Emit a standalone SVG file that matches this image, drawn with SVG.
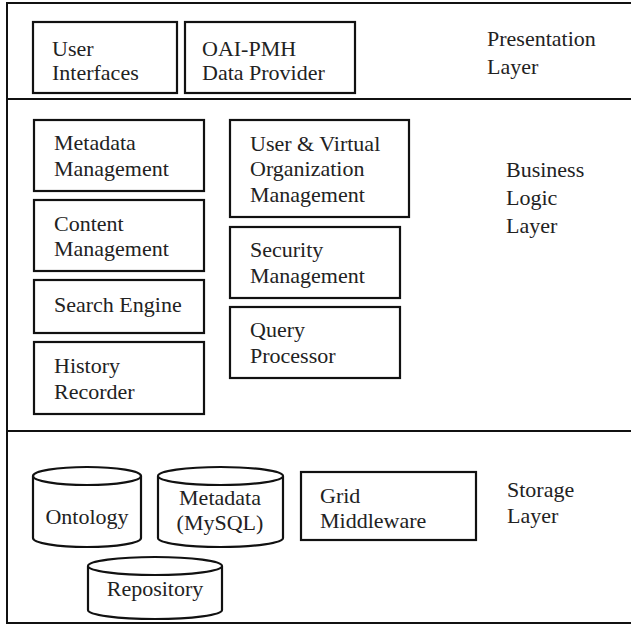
<svg xmlns="http://www.w3.org/2000/svg" width="631" height="626" viewBox="0 0 631 626">
  <style>
    .frame { fill: none; stroke: #111; stroke-width: 2; }
    .box { fill: #fff; stroke: #111; stroke-width: 2.2; }
    .cyl { fill: #fff; stroke: #111; stroke-width: 2.2; }
    .lbl { font-family: "Liberation Serif", "Times New Roman", Times, serif; font-size: 22px; fill: #222; }
    .mid { text-anchor: middle; }
  </style>
  <rect width="631" height="626" fill="#fff"/>

  <!-- outer frame and layer dividers -->
  <g id="layers">
    <rect class="frame" x="7" y="3" width="630" height="620"/>
    <line class="frame" x1="7" y1="99" x2="631" y2="99"/>
    <line class="frame" x1="7" y1="431" x2="631" y2="431"/>
  </g>

  <!-- Presentation layer -->
  <g id="presentation-label">
    <text class="lbl" x="487" y="46">Presentation</text>
    <text class="lbl" x="487" y="74">Layer</text>
  </g>
  <g id="user-interfaces">
    <rect class="box" x="33" y="22" width="144" height="71"/>
    <text class="lbl" x="52" y="56">User</text>
    <text class="lbl" x="52" y="80">Interfaces</text>
  </g>
  <g id="oai-pmh">
    <rect class="box" x="185" y="22" width="170" height="71"/>
    <text class="lbl" x="202" y="56">OAI-PMH</text>
    <text class="lbl" x="202" y="80">Data Provider</text>
  </g>

  <!-- Business logic layer -->
  <g id="business-label">
    <text class="lbl" x="506" y="177">Business</text>
    <text class="lbl" x="506" y="205">Logic</text>
    <text class="lbl" x="506" y="233">Layer</text>
  </g>
  <g id="metadata-management">
    <rect class="box" x="34" y="120" width="170" height="71"/>
    <text class="lbl" x="54" y="150">Metadata</text>
    <text class="lbl" x="54" y="176">Management</text>
  </g>
  <g id="content-management">
    <rect class="box" x="34" y="200" width="170" height="71"/>
    <text class="lbl" x="54" y="231">Content</text>
    <text class="lbl" x="54" y="256">Management</text>
  </g>
  <g id="search-engine">
    <rect class="box" x="34" y="280" width="170" height="53"/>
    <text class="lbl" x="54" y="312">Search Engine</text>
  </g>
  <g id="history-recorder">
    <rect class="box" x="34" y="342" width="170" height="72"/>
    <text class="lbl" x="54" y="373">History</text>
    <text class="lbl" x="54" y="399">Recorder</text>
  </g>
  <g id="user-vo-management">
    <rect class="box" x="230" y="120" width="179" height="97"/>
    <text class="lbl" x="250" y="151">User &amp; Virtual</text>
    <text class="lbl" x="250" y="176">Organization</text>
    <text class="lbl" x="250" y="202">Management</text>
  </g>
  <g id="security-management">
    <rect class="box" x="230" y="227" width="170" height="71"/>
    <text class="lbl" x="250" y="257">Security</text>
    <text class="lbl" x="250" y="283">Management</text>
  </g>
  <g id="query-processor">
    <rect class="box" x="230" y="307" width="170" height="71"/>
    <text class="lbl" x="250" y="337">Query</text>
    <text class="lbl" x="250" y="363">Processor</text>
  </g>

  <!-- Storage layer -->
  <g id="storage-label">
    <text class="lbl" x="507" y="497">Storage</text>
    <text class="lbl" x="507" y="523">Layer</text>
  </g>
  <g id="ontology">
    <path class="cyl" d="M33,476 A54,9 0 0 1 141,476 L141,538 A54,9 0 0 1 33,538 Z"/>
    <path class="cyl" d="M33,476 A54,9 0 0 0 141,476" fill="none"/>
    <text class="lbl mid" x="87" y="524">Ontology</text>
  </g>
  <g id="metadata-mysql">
    <path class="cyl" d="M158,476 A62.5,9 0 0 1 283,476 L283,538 A62.5,9 0 0 1 158,538 Z"/>
    <path class="cyl" d="M158,476 A62.5,9 0 0 0 283,476" fill="none"/>
    <text class="lbl mid" x="220" y="505">Metadata</text>
    <text class="lbl mid" x="220" y="530">(MySQL)</text>
  </g>
  <g id="grid-middleware">
    <rect class="box" x="301" y="472" width="175" height="68"/>
    <text class="lbl" x="320" y="503">Grid</text>
    <text class="lbl" x="320" y="528">Middleware</text>
  </g>
  <g id="repository">
    <path class="cyl" d="M88,566 A67,9 0 0 1 222,566 L222,610 A67,9 0 0 1 88,610 Z"/>
    <path class="cyl" d="M88,566 A67,9 0 0 0 222,566" fill="none"/>
    <text class="lbl mid" x="155" y="596">Repository</text>
  </g>

  <!-- no connectors between components -->
  <g id="connectors"/>
</svg>
